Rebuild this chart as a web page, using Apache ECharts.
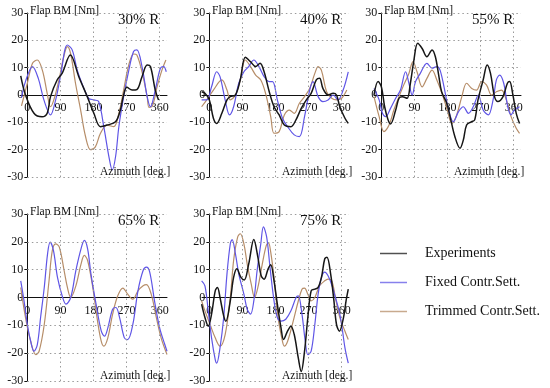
<!DOCTYPE html>
<html>
<head>
<meta charset="utf-8">
<script src="https://cdn.jsdelivr.net/npm/echarts@6/dist/echarts.min.js"></script>
<style>html,body{margin:0;padding:0;background:#fff;}#c{width:550px;height:388px;}</style>
</head>
<body>
<div id="c"></div>
<script>
// ---- data (azimuth deg, flap bending moment Nm) ----
const panelTitles = ['30% R', '40% R', '55% R', '65% R', '75% R'];
const seriesNames = ['Experiments', 'Fixed Contr.Sett.', 'Trimmed Contr.Sett.'];
const xTickValues = [0, 90, 180, 270, 360];
const gridXValues = [90, 180, 270, 360];
const gridYValues = [-30, -20, -10, 10, 20, 30];

const p30Exp = [[-18,7],[-5,0],[18,-6.7],[40,-8],[54,-6.7],[63,-0.6],[81,5.5],[95,8],[117,14.6],[140,6.7],[163,-0.6],[181,-6.7],[199,-11.6],[217,-11],[240,-9.8],[253,-5.5],[262,0],[271,2.8],[285,1.8],[298,2],[312,6.7],[326,11],[335,10.4],[348,1.8],[357,-1.8]];
const p30Fixed = [[-16,-1],[-5,5],[14,10.4],[30,6],[45,-1.8],[63,-7.3],[77,-1.8],[90,6.7],[109,18.3],[122,16.5],[136,9],[154,2.4],[167,-1.2],[181,-1.8],[194,-2.4],[208,-11.6],[222,-22.6],[231,-27.4],[240,-22.6],[249,-11.6],[262,-0.6],[276,9],[289,15.9],[298,16.5],[312,10.4],[326,-0.6],[335,-4.3],[348,1.8],[362,9.8],[371,10.4],[378,8.5]];
const p30Trim = [[-16,-4],[0,4.3],[14,11.6],[27,12.8],[41,9],[54,0.6],[63,-4.3],[72,-1.8],[86,5.5],[99,14],[109,17.7],[118,15],[131,4.3],[145,-5.5],[158,-15],[172,-20],[185,-19],[199,-14],[217,-11],[235,-11.6],[249,-6.7],[262,1.8],[276,11],[289,15],[298,14.6],[312,8.5],[326,-0.6],[331,-4.5],[339,-4.3],[353,3],[366,9],[377,12.8]];

const p40Exp = [[-21,1.2],[-12,0.6],[0,-1.8],[11,-8.5],[20,-10.4],[34,-6.7],[48,-1.8],[57,-0.6],[71,0],[84,5.5],[98,13.8],[112,12.2],[126,10.4],[138,11.6],[149,8.5],[163,1.2],[176,-4.3],[190,-7.3],[204,-11],[222,-11.6],[236,-9],[250,-4.9],[264,-1.8],[277,0.6],[291,5.5],[300,6.1],[309,2.4],[323,0],[337,0.6],[346,0],[355,-4.3],[369,-8.5],[378,-10.4]];
const p40Fixed = [[-21,-1.8],[-7,-1.8],[6,3],[20,8.5],[29,6.7],[43,-1.8],[55,-7.3],[66,-4.3],[80,4.3],[94,8.5],[107,10.4],[121,12.8],[135,10.4],[149,6.7],[163,4.9],[172,4.9],[185,-1.8],[199,-8.5],[213,-11.6],[231,-14.6],[245,-15.2],[259,-7.9],[273,1.8],[282,4.9],[296,-0.6],[309,-2.4],[323,-1.8],[337,0],[350,-1.8],[364,1.8],[378,8.5]];
const p40Trim = [[-21,-4.3],[-7,-1.8],[11,1.8],[34,5.5],[48,1.8],[57,-1.8],[71,0],[84,5.5],[98,12.8],[112,10.4],[126,7.3],[140,5.5],[153,0.6],[167,-7.9],[176,-14],[190,-13.4],[204,-7.3],[218,-5.5],[231,-6.7],[245,-3],[259,-0.6],[273,2.4],[287,7.9],[296,10.4],[305,9],[319,1.2],[333,-1.2],[346,-1.8],[360,-1.2],[374,1.8]];

const p55Exp = [[-20,0],[-9,4.9],[0,3],[9,-4.3],[18,-9],[25,-10.6],[39,-5.5],[48,-1.2],[57,-0.6],[70,-1.2],[79,4.3],[88,12.2],[99,18.9],[111,17],[124,14],[138,16.5],[147,14],[156,7.3],[164,1.2],[178,-3],[187,-7.9],[200,-15.2],[214,-19.5],[223,-16.5],[232,-11],[245,-9.8],[254,-9.1],[263,-1.8],[277,5.5],[288,11],[297,7.9],[308,-0.6],[317,-2.4],[331,-0.6],[343,4.3],[349,4.9],[358,0],[367,-6.7],[376,-10.4]];
const p55Fixed = [[-20,2.4],[-6,-1.8],[3,-6.7],[12,-7.9],[25,-4.9],[39,-1.2],[52,1.8],[66,8.5],[75,4.3],[84,0],[93,4.9],[106,7.9],[124,11.6],[138,9.8],[151,10.4],[160,9],[174,0.6],[183,-5.5],[196,-9.8],[210,-6.1],[223,-4.3],[237,-6.7],[250,-4.3],[264,0],[277,-5.5],[291,-7.3],[304,-1.8],[313,5.5],[322,7.3],[333,4.3],[344,-4.3],[353,-7.3],[362,-5.5],[376,-4.3]];
const p55Trim = [[-20,-0.6],[-6,-7.9],[7,-13.4],[21,-11],[34,-5.5],[48,-0.6],[61,3.7],[75,7.9],[86,12.2],[97,8.5],[111,3],[124,6.1],[138,9.1],[151,5.5],[165,0.6],[178,-4.9],[192,-10.4],[205,-7.3],[219,-0.6],[232,4.3],[246,2.4],[259,1.8],[273,4.9],[286,3.7],[300,0],[313,1.2],[327,1.8],[340,-1.8],[353,-7.9],[367,-12.2],[376,-14]];

const p65Fixed = [[-18,6],[-9,-1.2],[0,-9.7],[9,-15.7],[18,-19.3],[27,-17],[36,-7.2],[46,3.6],[55,15.7],[62,19.9],[71,16.9],[82,7.2],[96,0],[105,-2.4],[118,0],[132,9.7],[146,17.5],[155,20.5],[164,17.5],[173,8.5],[187,-2.4],[201,-12],[210,-13.9],[219,-10.9],[232,-4.2],[241,-3.6],[251,-7.2],[264,-14.5],[273,-15.1],[287,-9.7],[301,2.4],[315,9.7],[324,10.9],[333,9.1],[346,-1.2],[360,-10.9],[374,-16.9],[380,-19.3]];
const p65Trim = [[-18,3.6],[-5,-7.2],[9,-15.7],[23,-20.5],[32,-19.3],[46,-9.7],[59,6],[68,16.9],[77,19.3],[87,18.1],[100,9.7],[109,3.6],[118,0],[132,4.2],[146,12],[155,15.1],[164,13.3],[178,3.6],[191,-8.5],[201,-15.7],[208,-17.5],[219,-14.5],[232,-6],[246,0.6],[260,3.4],[273,1.2],[287,-0.6],[301,2.4],[315,4.2],[324,4.6],[337,1.2],[351,-7.2],[364,-14.5],[380,-20.5]];

const p75Exp = [[-21,-2.4],[-12,-7.2],[-3,-10.3],[6,-6],[16,2.4],[22,3.6],[29,0],[39,-6.6],[45,-8.5],[57,-1.2],[66,7.2],[75,10.3],[86,7.2],[95,6.3],[107,12],[121,20.8],[132,14.5],[141,7.8],[149,6.6],[160,10.3],[167,11.8],[176,6],[185,-2.4],[195,-10.9],[202,-15.1],[213,-12],[222,-10.3],[231,-13.3],[242,-21.7],[250,-26.6],[259,-19.3],[268,-7.2],[277,2.4],[287,3],[296,3.6],[305,7.2],[314,13.9],[320,14.5],[330,8.5],[339,-1.2],[346,-9.7],[354,-12.1],[365,-7.2],[372,-1.2],[378,3]];
const p75Fixed = [[-21,6],[-12,4.2],[-3,-4.8],[6,-14.5],[16,-22.3],[20,-23.6],[29,-18.1],[39,-7.2],[48,8.5],[57,19.3],[62,20.8],[71,15.7],[80,8.5],[94,1.2],[103,-4.2],[112,-6],[121,-1.2],[130,9.7],[140,19.3],[147,25.4],[156,21.7],[165,10.9],[176,-1.2],[185,-7.2],[195,-8.5],[208,-7.8],[222,-4.8],[236,0],[242,0.6],[252,-6],[261,-15.7],[268,-20.5],[277,-19.3],[287,-9.7],[296,1.2],[305,7.2],[314,9.1],[323,7.8],[334,4.2],[343,0],[353,-4.8],[360,-9.7],[369,-18.1],[378,-23.6]];
const p75Trim = [[-21,-1.2],[-12,-4.8],[2,-9.7],[16,-14.5],[29,-17.5],[43,-13.3],[57,0],[66,13.3],[77,21.7],[84,22.9],[94,19.3],[103,12],[114,4.8],[123,0],[132,3.6],[144,12],[155,18.7],[161,19.6],[167,16.3],[176,7.2],[187,-7.2],[197,-14.5],[204,-17.5],[213,-15.7],[227,-9.1],[241,-1.8],[252,3],[259,3.4],[268,1.2],[277,-1.2],[287,0],[300,4.2],[314,6],[323,6.6],[333,6],[343,0],[355,-7.2],[369,-12.1],[378,-15.1]];

const panelData = [
  [p30Exp, p30Fixed, p30Trim],
  [p40Exp, p40Fixed, p40Trim],
  [p55Exp, p55Fixed, p55Trim],
  [null, p65Fixed, p65Trim],
  [p75Exp, p75Fixed, p75Trim]
];

// ---- layout / style ----
const FONT = 'Liberation Serif';
const colors = ['#161616', '#5f55e6', '#b68d68'];
const X_MIN = -20, X_MAX = 380;
const grids = [
  {left: 20, top: 13, width: 147, height: 164},
  {left: 202, top: 13, width: 147, height: 164},
  {left: 374, top: 13, width: 147, height: 164},
  {left: 20, top: 214, width: 147, height: 167},
  {left: 202, top: 214, width: 147, height: 167}
];

const xAxes = [], yAxes = [], series = [], titles = [];
grids.forEach((g, i) => {
  xAxes.push({
    type: 'value', gridIndex: i, min: X_MIN, max: X_MAX, position: 'bottom',
    offset: -g.height / 2,
    axisLine: {onZero: false, lineStyle: {color: '#111', width: 1}},
    axisTick: {show: false},
    splitLine: {show: false},
    axisLabel: {customValues: xTickValues, fontFamily: FONT, fontSize: 12, color: '#111', margin: 7}
  });
  yAxes.push({
    type: 'value', gridIndex: i, min: -30, max: 30, interval: 10, position: 'left',
    offset: -(0 - X_MIN) / (X_MAX - X_MIN) * g.width,
    axisLine: {show: true, onZero: false, lineStyle: {color: '#111', width: 1}},
    axisTick: {show: true, length: 3, lineStyle: {color: '#111'}},
    splitLine: {show: false},
    axisLabel: {fontFamily: FONT, fontSize: 12, color: '#111', margin: 4}
  });
  const gridLines = gridXValues.map(v => ({xAxis: v}))
    .concat(gridYValues.map(v => [{coord: [0, v]}, {coord: [X_MAX, v]}]));
  [2, 1, 0].forEach((k, n) => {
    const d = panelData[i][k];
    if (!d) return;
    const s = {
      type: 'line', name: seriesNames[k], xAxisIndex: i, yAxisIndex: i,
      data: d, smooth: 0.35, symbol: 'none', showSymbol: false,
      lineStyle: {color: colors[k], width: k === 0 ? 1.5 : 1.2},
      itemStyle: {color: colors[k]},
      z: 3 + n
    };
    if (n === 0) {
      s.markLine = {
        silent: true, symbol: ['none', 'none'], label: {show: false},
        lineStyle: {color: '#9a9a9a', type: [1.5, 3], width: 1},
        animation: false, data: gridLines
      };
    }
    series.push(s);
  });
  titles.push({text: panelTitles[i], left: g.left + 98, top: g.top, padding: 0,
    textStyle: {fontFamily: FONT, fontSize: 15, fontWeight: 'normal', color: '#111'}});
  titles.push({text: 'Flap BM [Nm]', left: g.left + 10, top: g.top - 8, padding: 0,
    textStyle: {fontFamily: FONT, fontSize: 11.5, fontWeight: 'normal', color: '#111'}});
  titles.push({text: 'Azimuth [deg.]', left: g.left + 80, top: g.top + g.height - 11, padding: 0,
    textStyle: {fontFamily: FONT, fontSize: 11.5, fontWeight: 'normal', color: '#111'}});
});

const chart = echarts.init(document.getElementById('c'), null, {renderer: 'canvas'});
chart.setOption({
  animation: false,
  backgroundColor: '#fff',
  title: titles,
  legend: {
    data: seriesNames, orient: 'vertical', left: 380, top: 246, padding: 0,
    icon: 'rect', itemWidth: 27, itemHeight: 1.5, itemGap: 14,
    itemStyle: {opacity: 0.75},
    textStyle: {fontFamily: FONT, fontSize: 14, color: '#111', padding: [0, 0, 0, 13], lineHeight: 15}
  },
  grid: grids,
  xAxis: xAxes,
  yAxis: yAxes,
  series: series
});
</script>
</body>
</html>
